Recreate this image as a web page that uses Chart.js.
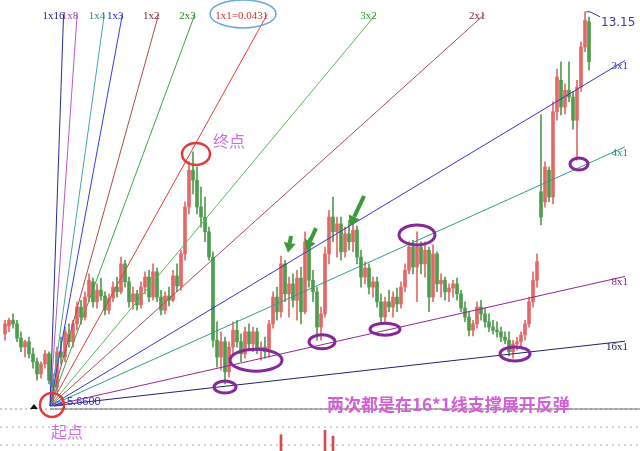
<!DOCTYPE html>
<html><head><meta charset="utf-8">
<script src="https://cdn.jsdelivr.net/npm/chart.js@4.4.1/dist/chart.umd.min.js"></script>
<style>html,body{margin:0;padding:0;background:#fff;overflow:hidden}#c{display:block}</style>
</head><body>
<canvas id="c" width="640" height="451"></canvas>
<script>
// ---- candle data (price) ----
const opens = [
7.03,7.18,7.29,7.22,6.95,6.78,6.88,6.65,6.50,6.27,6.46,6.65,6.15,
6.02,6.69,6.59,7.03,6.88,7.22,7.54,7.35,7.73,8.02,7.64,7.86,7.75,7.48,7.71,7.92,7.83,
8.36,8.02,7.64,7.79,7.58,7.92,8.11,7.73,8.21,7.73,7.48,7.75,7.67,8.13,7.94,
8.55,9.44,10.14,9.95,9.44,9.25,8.97,8.49,6.91,6.59,6.88,6.31,6.78,7.10,6.88,
6.65,7.07,6.84,7.07,6.72,6.78,6.69,7.22,7.73,7.45,8.36,7.79,7.98,7.67,8.09,
7.45,8.78,8.05,7.83,7.16,7.41,8.55,9.25,8.97,9.12,8.59,8.93,8.78,9.00,8.49,
8.11,8.28,7.92,8.02,7.64,7.35,7.64,7.54,7.73,7.60,7.92,8.24,8.68,8.30,8.68,
8.36,8.62,7.73,8.55,7.98,8.05,7.83,7.90,7.98,7.79,7.52,7.35,7.10,7.22,7.54,
7.41,7.26,7.16,7.10,7.07,6.97,6.91,6.69,6.84,6.88,7.01,7.22,7.64,8.05,
9.73,9.54,10.14,9.63,11.25,11.85,11.34,11.66,11.53,11.09,11.72,12.48,12.96];
const highs = [
7.29,7.33,7.41,7.29,7.07,6.91,6.97,6.76,6.57,6.50,6.72,6.69,6.27,
6.78,6.97,7.16,7.22,7.29,7.64,7.67,7.83,8.17,8.09,7.98,8.09,7.83,7.79,8.02,8.11,8.49,
8.43,8.11,7.92,7.86,8.02,8.21,8.24,8.36,8.28,7.86,7.83,7.92,8.24,8.36,8.62,
9.54,10.30,10.49,10.20,9.82,9.63,9.06,8.59,7.26,7.07,6.97,6.88,7.26,7.29,7.03,
7.16,7.22,7.16,7.14,6.88,6.97,7.29,7.83,7.92,8.51,8.43,8.11,8.17,8.24,8.30,
8.97,8.85,8.24,7.92,7.54,8.68,9.38,9.63,9.25,9.25,9.06,9.19,9.12,9.08,8.62,
8.40,8.36,8.11,8.11,7.79,7.73,7.86,7.83,7.90,8.02,8.36,8.78,8.81,8.97,8.78,
8.78,8.68,8.72,8.59,8.17,8.11,7.98,8.05,8.09,7.86,7.64,7.45,7.29,7.64,7.67,
7.52,7.41,7.29,7.26,7.16,7.07,7.07,6.91,6.97,7.07,7.29,7.73,8.21,8.55,
11.19,10.30,10.20,11.44,12.06,12.20,11.78,12.20,11.63,11.85,12.58,13.15,13.05];
const lows = [
6.91,7.07,7.14,6.88,6.69,6.59,6.57,6.38,6.15,6.19,6.38,6.08,5.66,
5.93,6.46,6.50,6.78,6.78,7.10,7.22,7.29,7.64,7.54,7.52,7.67,7.39,7.41,7.64,7.73,7.79,
7.92,7.54,7.50,7.48,7.52,7.79,7.64,7.67,7.64,7.39,7.41,7.56,7.64,7.83,7.86,
8.43,9.31,9.69,9.31,9.06,8.78,8.43,6.78,6.40,6.34,6.08,6.21,6.65,6.78,6.50,
6.57,6.72,6.69,6.65,6.53,6.57,6.59,7.14,7.29,7.35,7.64,7.35,7.54,7.29,7.22,
7.41,7.92,7.64,6.91,6.91,7.35,8.36,8.78,8.49,8.43,8.49,8.62,8.59,8.36,7.92,
7.98,7.79,7.73,7.54,7.22,7.26,7.45,7.35,7.45,7.52,7.83,8.17,8.17,7.64,8.17,
8.11,7.45,7.64,7.83,7.73,7.67,7.64,7.73,7.67,7.45,7.26,6.99,6.99,7.14,7.29,
7.16,7.07,7.03,6.97,6.88,6.84,6.61,6.57,6.72,6.78,6.91,7.16,7.54,7.92,
9.10,9.44,9.54,9.50,11.09,11.19,11.21,11.44,10.92,10.33,11.63,12.39,12.04];
const closes = [
7.22,7.29,7.22,6.95,6.78,6.88,6.65,6.50,6.27,6.46,6.65,6.15,6.02,
6.69,6.59,7.07,6.88,7.22,7.54,7.35,7.73,8.05,7.64,7.86,7.75,7.48,7.71,7.92,7.83,8.36,
8.02,7.64,7.79,7.58,7.92,8.11,7.73,8.21,7.73,7.48,7.75,7.67,8.13,7.94,8.55,
9.44,10.14,9.95,9.44,9.25,8.97,8.49,6.91,6.59,6.88,6.31,6.78,7.10,6.88,6.65,
7.07,6.84,7.07,6.72,6.78,6.69,7.22,7.73,7.45,8.36,7.79,7.98,7.67,8.09,7.45,
8.78,8.05,7.83,7.16,7.41,8.55,9.25,8.97,9.12,8.59,8.93,8.78,9.00,8.49,8.11,
8.28,7.92,8.02,7.64,7.35,7.64,7.54,7.73,7.60,7.92,8.24,8.68,8.30,8.68,8.36,
8.62,7.73,8.55,7.98,8.05,7.83,7.90,7.98,7.79,7.52,7.35,7.10,7.22,7.54,7.41,
7.26,7.16,7.10,7.07,6.97,6.91,6.69,6.84,6.88,7.01,7.22,7.64,8.05,8.40,
9.25,10.20,9.63,11.25,11.91,11.34,11.66,11.53,11.09,11.72,12.48,12.99,12.20];

// visible tops of the volume pane (rest is cropped below the picture)
const volIndex = [69, 80, 82];
const volValue = [3.6, 4.6, 3.3];

// ---- Gann fan ----
const fanLabels = ['1x16','1x8','1x4','1x3','1x2','2x3','1x1=0.0431','3x2','2x1','3x1','4x1','8x1','16x1'];
const fanRatios = [16, 8, 4, 3, 2, 1.5, 1, 2/3, 1/2, 1/3, 1/4, 1/8, 1/16];
const fanColors = ['#2a2a9c','#b858c8','#3fa8a0','#3636ee','#b04848','#3ea43e','#e03c3c','#58b858','#a44a60','#3434cc','#2f9c8c','#902890','#20206c'];
const fanLabelColors = ['#202080','#a040a8','#2f8080','#2424c0','#802424','#208a20','#d83030','#2f9a2f','#782838','#3030b0','#2f8080','#802080','#202050'];
const originIndex = 11.25, originPrice = 5.66, unitSlope = 0.137;
const topPrice = 13.10, rightIndex = 155;

const lastLabel = '13.15', lastIndex = 145;
const startLabel = '5.6600';
const baselinePrice = 5.603;
const paneGridVol = [5.3, 1.3];

// annotations (data coordinates)
const ellipses = [
  {x: 11.75, y: 5.68, rx: 12, ry: 12, c: '#e23a3a', w: 2.5},
  {x: 47.75, y: 10.45, rx: 14, ry: 11, c: '#e23a3a', w: 2.5},
  {x: 59.5, y: 13.11, rx: 33, ry: 14, c: '#6aaad8', w: 1.5},
  {x: 55, y: 6.02, rx: 11, ry: 6, c: '#86289a', w: 3},
  {x: 62.75, y: 6.53, rx: 26, ry: 11, c: '#86289a', w: 3},
  {x: 79.25, y: 6.88, rx: 13, ry: 7, c: '#86289a', w: 3},
  {x: 95, y: 7.12, rx: 15, ry: 6, c: '#86289a', w: 3},
  {x: 103, y: 8.91, rx: 18, ry: 10, c: '#86289a', w: 3},
  {x: 127.5, y: 6.65, rx: 15, ry: 7, c: '#86289a', w: 3},
  {x: 143.5, y: 10.26, rx: 9, ry: 6, c: '#86289a', w: 3}
];
const arrows = [
  {tx: 70.75, ty: 8.57, fx: 71.5, fy: 8.89},
  {tx: 75.25, ty: 8.62, fx: 77.75, fy: 9.04},
  {tx: 86.25, ty: 9.08, fx: 89.75, fy: 9.65}
];
const notes = [
  {text: '终点', x: 52, y: 10.70, font: '16px "Noto Sans CJK SC"', c: '#c872d8'},
  {text: '起点', x: 11.5, y: 5.17, font: '16px "Noto Sans CJK SC"', c: '#d070e0'},
  {text: '两次都是在16*1线支撑展开反弹', x: 80.5, y: 5.68, font: 'bold 17px "Noto Sans CJK SC"', c: '#d35ed6'}
];
const markerIndex = 7.25;

// ---- build ----
const idx = opens.map((_, i) => i);
const candleColors = idx.map(i => closes[i] >= opens[i] ? '#e46868' : '#4f9d4f');
const xMin = -1.25, xMax = 158.75;

const fanEnds = fanRatios.map(r => {
  const s = unitSlope * r;
  const dx = Math.min(rightIndex - originIndex, (topPrice - originPrice) / s);
  return {x: originIndex + dx, y: originPrice + s * dx, top: dx < rightIndex - originIndex};
});
const fanDatasets = fanRatios.map((r, k) => ({
  type: 'line', data: [{x: originIndex, y: originPrice}, {x: fanEnds[k].x, y: fanEnds[k].y}],
  borderColor: fanColors[k], borderWidth: 1, pointRadius: 0, tension: 0, order: 1
}));

const overlay = {
  id: 'overlay',
  afterDatasetsDraw(chart) {
    const {ctx, scales} = chart;
    const X = v => scales.x.getPixelForValue(v), Y = v => scales.y.getPixelForValue(v);
    ctx.save();
    // fan labels
    ctx.font = '11px "Liberation Serif"';
    ctx.textBaseline = 'middle';
    fanEnds.forEach((e, k) => {
      ctx.fillStyle = fanLabelColors[k];
      ctx.textAlign = 'right';
      if (e.top) ctx.fillText(fanLabels[k], X(e.x) + 1, Y(e.y) + 2);
      else ctx.fillText(fanLabels[k], X(e.x) + 3, Y(e.y) + 6);
    });
    // last price label
    const hx = X(lastIndex), hy = Y(highs[lastIndex]);
    ctx.strokeStyle = '#3a3a9a'; ctx.lineWidth = 1;
    ctx.beginPath(); ctx.moveTo(hx + 1, hy); ctx.lineTo(hx + 5, hy); ctx.lineTo(hx + 15, hy + 5); ctx.stroke();
    ctx.fillStyle = '#3a3a9a'; ctx.font = '12px "DejaVu Sans"'; ctx.textAlign = 'left';
    ctx.fillText(lastLabel, hx + 16, hy + 11);
    // start price label
    const ox = X(originIndex), oy = Y(originPrice);
    ctx.strokeStyle = '#2c2cc8';
    ctx.beginPath(); ctx.moveTo(ox + 4, oy); ctx.lineTo(ox + 14, oy - 5); ctx.moveTo(ox + 4, oy); ctx.lineTo(ox + 14, oy - 1); ctx.stroke();
    ctx.fillStyle = '#2c2cc8'; ctx.font = '11px "Liberation Sans"';
    ctx.fillText(startLabel, ox + 17, oy - 4);
    // marker
    const mx = X(markerIndex), my = Y(baselinePrice);
    ctx.fillStyle = '#111';
    ctx.beginPath(); ctx.moveTo(mx, my - 5); ctx.lineTo(mx + 4, my); ctx.lineTo(mx - 4, my); ctx.closePath(); ctx.fill();
    // ellipses
    ellipses.forEach(e => {
      ctx.strokeStyle = e.c; ctx.lineWidth = e.w;
      ctx.beginPath(); ctx.ellipse(X(e.x), Y(e.y), e.rx, e.ry, 0, 0, Math.PI * 2); ctx.stroke();
    });
    // arrows
    ctx.fillStyle = '#3c9a3c'; ctx.strokeStyle = '#3c9a3c';
    arrows.forEach(a => {
      const tx = X(a.tx), ty = Y(a.ty), fx = X(a.fx), fy = Y(a.fy);
      const ang = Math.atan2(ty - fy, tx - fx);
      const head = 10, half = 6;
      const bx = tx - Math.cos(ang) * head, by = ty - Math.sin(ang) * head;
      ctx.lineWidth = 4;
      ctx.beginPath(); ctx.moveTo(fx, fy); ctx.lineTo(bx, by); ctx.stroke();
      ctx.beginPath();
      ctx.moveTo(tx, ty);
      ctx.lineTo(bx + Math.sin(ang) * half, by - Math.cos(ang) * half);
      ctx.lineTo(bx - Math.sin(ang) * half, by + Math.cos(ang) * half);
      ctx.closePath(); ctx.fill();
    });
    // notes
    notes.forEach(n => {
      ctx.font = n.font; ctx.fillStyle = n.c; ctx.textAlign = 'left'; ctx.textBaseline = 'middle';
      ctx.fillText(n.text, X(n.x), Y(n.y));
    });
    ctx.restore();
  }
};

const flat = (v) => [{x: xMin, y: v}, {x: xMax, y: v}];

new Chart(document.getElementById('c'), {
  type: 'bar',
  data: {
    datasets: [
      ...fanDatasets,
      {type: 'line', data: flat(baselinePrice), borderColor: '#999', borderDash: [2, 3], borderWidth: 1, pointRadius: 0, order: 5},
      {type: 'line', data: [{x: originIndex, y: baselinePrice}, {x: xMax, y: baselinePrice}], borderColor: '#6f6f6f', borderWidth: 1, pointRadius: 0, order: 4},
      ...paneGridVol.map(v => ({type: 'line', yAxisID: 'yv', data: flat(v), borderColor: '#a8a8a8', borderDash: [2, 4], borderWidth: 1, pointRadius: 0, order: 5})),
      {type: 'bar', data: idx.map(i => ({x: i, y: [lows[i], highs[i]]})), backgroundColor: candleColors, barThickness: 1, grouped: false, order: 2},
      {type: 'bar', data: idx.map(i => ({x: i, y: [Math.min(opens[i], closes[i]), Math.max(opens[i], closes[i])]})), backgroundColor: candleColors, barThickness: 3, minBarLength: 1, grouped: false, order: 2},
      {type: 'bar', yAxisID: 'yv', data: volIndex.map((i, k) => ({x: i, y: volValue[k]})), backgroundColor: '#d84a4a', barThickness: 2, grouped: false, order: 3}
    ]
  },
  options: {
    responsive: false, animation: false, events: [],
    layout: {padding: 0},
    plugins: {legend: {display: false}, tooltip: {enabled: false}},
    scales: {
      x: {type: 'linear', min: xMin, max: xMax, display: false, offset: false},
      y: {min: 4.805, max: 13.374, display: false},
      yv: {min: 0, max: 100, display: false}
    }
  },
  plugins: [overlay]
});
</script>
</body></html>
